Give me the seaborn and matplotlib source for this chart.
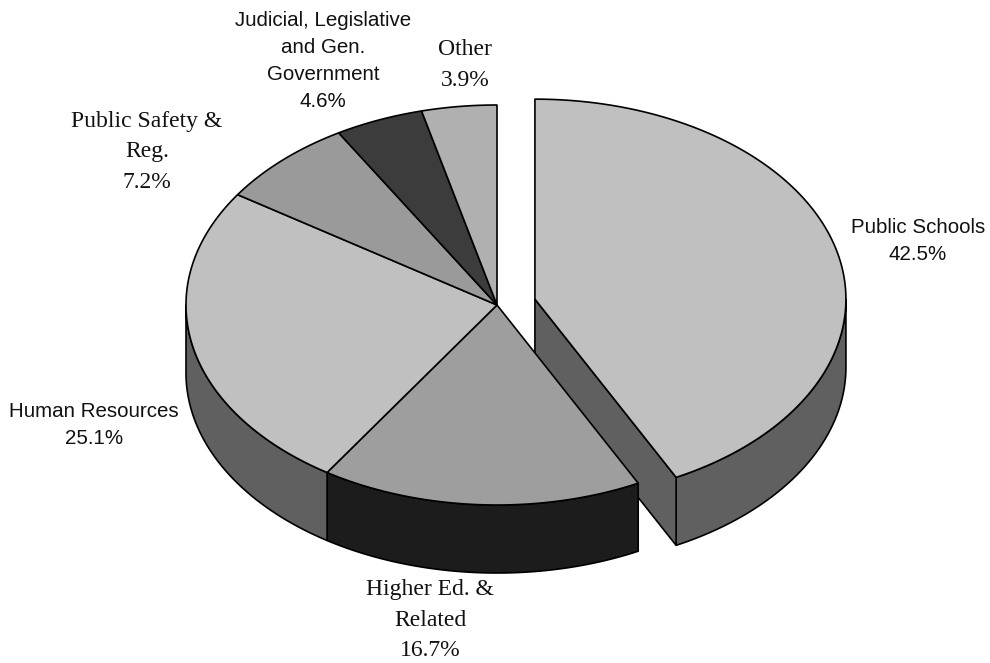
import numpy as np
import matplotlib
matplotlib.use("Agg")
import matplotlib.pyplot as plt
import seaborn as sns

categories = ["Public Schools", "Higher Ed. &\nRelated", "Human Resources", "Public Safety &\nReg.",
              "Judicial, Legislative\nand Gen.\nGovernment", "Other"]
shares = [42.5, 16.7, 25.1, 7.2, 4.6, 3.9]
top_colors = ["#C0C0C0", "#9E9E9E", "#C0C0C0", "#9A9A9A", "#3C3C3C", "#B0B0B0"]
side_colors = ["#606060", "#1C1C1C", "#606060", "#5A5A5A", "#262626", "#707070"]
label_fonts = ["Liberation Sans", "Liberation Serif", "Liberation Sans", "Liberation Serif",
               "Liberation Sans", "Liberation Serif"]
label_x = [918, 430, 94, 147, 323, 465]
label_y = [241, 620, 425, 152, 61, 65]

CX, CY = 497, 305
RX, RY = 311, 200
DEPTH = 68
EXPLODE = 39

sns.set_theme(style="white")
fig = plt.figure(figsize=(9.9, 6.63), dpi=100)
ax = fig.add_axes([0, 0, 1, 1])
ax.set_xlim(0, 990)
ax.set_ylim(663, 0)
ax.axis("off")


def rim(a, b, cx, cy):
    t = np.radians(np.linspace(a, b, 200))
    return cx + RX * np.sin(t), cy - RY * np.cos(t)


ends = np.cumsum(shares) / np.sum(shares) * 360
starts = np.r_[0, ends[:-1]]
mids = (starts + ends) / 2
offsets = [EXPLODE, 0, 0, 0, 0, 0]

# sides first so the top faces sit over them
for i in range(len(shares)):
    cx = CX + offsets[i] * np.sin(np.radians(mids[i]))
    cy = CY - offsets[i] * np.cos(np.radians(mids[i])) * RY / RX
    a, b = max(starts[i], 90), min(ends[i], 270)
    if a < b:
        x, y = rim(a, b, cx, cy)
        ax.fill(np.r_[x, x[::-1]], np.r_[y, y[::-1] + DEPTH], facecolor=side_colors[i],
                edgecolor="black", linewidth=1.2, joinstyle="round", zorder=2)
    if offsets[i] > 0:
        # cut face of the pulled out slice
        x, y = rim(ends[i], ends[i], cx, cy)
        ax.fill([cx, x[0], x[0], cx], [cy, y[0], y[0] + DEPTH, cy + DEPTH], facecolor=side_colors[i],
                edgecolor="black", linewidth=1.2, zorder=2)

for i in [1, 2, 3, 4, 5, 0]:
    cx = CX + offsets[i] * np.sin(np.radians(mids[i]))
    cy = CY - offsets[i] * np.cos(np.radians(mids[i])) * RY / RX
    x, y = rim(starts[i], ends[i], cx, cy)
    ax.fill(np.r_[cx, x], np.r_[cy, y], facecolor=top_colors[i], edgecolor="black",
            linewidth=1.2, joinstyle="round", zorder=3)

for i, name in enumerate(categories):
    serif = label_fonts[i] == "Liberation Serif"
    ax.text(label_x[i], label_y[i], f"{name}\n{shares[i]:.1f}%", ha="center", va="center",
            family=label_fonts[i], fontsize=17 if serif else 14.8, color="#111111",
            linespacing=1.59 if serif else 1.54, zorder=4)

plt.savefig("out.png", dpi=100)
